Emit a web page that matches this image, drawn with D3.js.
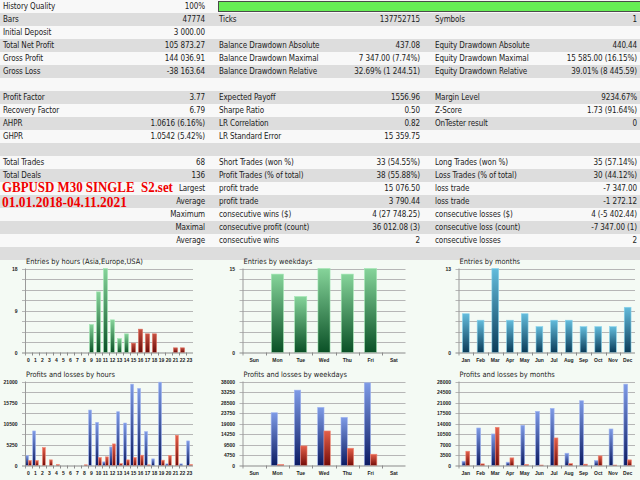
<!DOCTYPE html>
<html>
<head>
<meta charset="utf-8">
<script src="https://cdn.jsdelivr.net/npm/d3@7"></script>
<style>
    html, body { margin: 0; padding: 0; background: #ffffff; }
    svg { display: block; }
    .cell { font-family: "Liberation Sans Narrow", "DejaVu Sans Condensed", "Liberation Sans", sans-serif; font-size: 8px; letter-spacing: -0.1px; fill: #1c1c1c; }
    .stamp { font-family: "Liberation Serif", "DejaVu Serif", serif; font-weight: bold; font-size: 15px; fill: #f00000; }
    .chart-title { font-family: "Liberation Sans Narrow", "DejaVu Sans Condensed", "Liberation Sans", sans-serif; font-size: 7.4px; fill: #1c1c1c; }
    .y-axis text { font-family: "Liberation Sans", sans-serif; font-size: 5px; font-weight: bold; fill: #222; }
    .x-axis text { font-family: "Liberation Sans", sans-serif; font-size: 5px; font-weight: bold; fill: #222; }
</style>
</head>
<body>
<div id="report"></div>
<script>

// Table cells (one entry per row, 20 rows)
var leftLabels = ["History Quality", "Bars", "Initial Deposit", "Total Net Profit", "Gross Profit", "Gross Loss", "",
    "Profit Factor", "Recovery Factor", "AHPR", "GHPR", "", "Total Trades", "Total Deals", "", "", "", "", "", ""];
var leftValues = ["100%", "47774", "3 000.00", "105 873.27", "144 036.91", "-38 163.64", "",
    "3.77", "6.79", "1.0616 (6.16%)", "1.0542 (5.42%)", "", "68", "136", "Largest", "Average", "Maximum", "Maximal", "Average", ""];
var midLabels = ["", "Ticks", "", "Balance Drawdown Absolute", "Balance Drawdown Maximal", "Balance Drawdown Relative", "",
    "Expected Payoff", "Sharpe Ratio", "LR Correlation", "LR Standard Error", "", "Short Trades (won %)", "Profit Trades (% of total)",
    "profit trade", "profit trade", "consecutive wins ($)", "consecutive profit (count)", "consecutive wins", ""];
var midValues = ["", "137752715", "", "437.08", "7 347.00 (7.74%)", "32.69% (1 244.51)", "",
    "1556.96", "0.50", "0.82", "15 359.75", "", "33 (54.55%)", "38 (55.88%)",
    "15 076.50", "3 790.44", "4 (27 748.25)", "36 012.08 (3)", "2", ""];
var rightLabels = ["", "Symbols", "", "Equity Drawdown Absolute", "Equity Drawdown Maximal", "Equity Drawdown Relative", "",
    "Margin Level", "Z-Score", "OnTester result", "", "", "Long Trades (won %)", "Loss Trades (% of total)",
    "loss trade", "loss trade", "consecutive losses ($)", "consecutive loss (count)", "consecutive losses", ""];
var rightValues = ["", "1", "", "440.44", "15 585.00 (16.15%)", "39.01% (8 445.59)", "",
    "9234.67%", "1.73 (91.64%)", "0", "", "", "35 (57.14%)", "30 (44.12%)",
    "-7 347.00", "-1 272.12", "4 (-5 402.44)", "-7 347.00 (1)", "2", ""];
var stampLines = ["GBPUSD M30 SINGLE  S2.set", "01.01.2018-04.11.2021"];

// Chart categories
var hourCategories = ["0", "1", "2", "3", "4", "5", "6", "7", "8", "9", "10", "11",
    "12", "13", "14", "15", "16", "17", "18", "19", "20", "21", "22", "23"];
var hourSessions = ["asia", "asia", "asia", "asia", "asia", "asia", "asia", "asia", "asia",
    "europe", "europe", "europe", "europe", "europe", "europe",
    "usa", "usa", "usa", "usa", "usa", "usa", "usa", "usa", "usa"];
var weekdayCategories = ["Sun", "Mon", "Tue", "Wed", "Thu", "Fri", "Sat"];
var monthCategories = ["Jan", "Feb", "Mar", "Apr", "May", "Jun", "Jul", "Aug", "Sep", "Oct", "Nov", "Dec"];

// Entries
var hourEntries = [0, 0, 0, 0, 0, 0, 0, 0, 0, 6, 13, 18, 7, 3, 4, 2, 5, 4, 4, 0, 0, 1, 1, 0];
var weekdayEntries = [0, 14, 10, 15, 14, 15, 0];
var monthEntries = [6, 5, 13, 5, 6, 4, 5, 5, 4, 4, 4, 7];

// Profits and losses
var hourProfits = [2490, 8633, 0, 0, 0, 0, 0, 0, 0, 13862, 10790, 913, 4648, 13447, 10625, 20336,
    19257, 8467, 1660, 20834, 415, 0, 415, 6142];
var hourLosses = [1245, 1245, 4482, 1411, 250, 0, 0, 0, 170, 0, 1992, 2158, 5395, 498, 1411, 1992,
    2573, 166, 0, 1328, 2490, 7553, 0, 250];
var weekdayProfits = [0, 23881, 34095, 26285, 21779, 37399, 0];
var weekdayLosses = [0, 450, 8862, 15621, 7810, 5107, 0];
var monthProfits = [1439, 12506, 10514, 1107, 13391, 18040, 19036, 4095, 21581, 1660, 12174, 27115];
var monthLosses = [4759, 553, 12727, 2545, 332, 150, 9186, 664, 443, 3209, 150, 1881];

// Y tick labels (first one is the axis maximum)
var hourEntryTicks = [18, 9, 0];
var weekdayEntryTicks = [15, 0];
var monthEntryTicks = [13, 0];
var hourProfitTicks = [21000, 15750, 10500, 5250, 0];
var weekdayProfitTicks = [38000, 33250, 28500, 23750, 19000, 14250, 9500, 4750, 0];
var monthProfitTicks = [28000, 24500, 21000, 17500, 14000, 10500, 7000, 3500, 0];

var width = 640, height = 480, rowHeight = 13;

var svg = d3.select("#report")
    .append("svg")
    .attr("width", width)
    .attr("height", height);

// Gradients for the bars
var gradients = {
    green: ["#86d49a", "#0a5026", "#a3e8b5"],
    red: ["#c65040", "#690c0a", "#dc6a5c"],
    teal: ["#63bcdc", "#0a3b58", "#86d2ec"],
    blue: ["#7e9be6", "#0b1b62", "#9fb3f0"],
    loss: ["#e4604a", "#740c08", "#f08472"]
};
var defs = svg.append("defs");
Object.keys(gradients).forEach(function (key) {
    var grad = defs.append("linearGradient")
        .attr("id", "grad-" + key)
        .attr("x1", 0).attr("y1", 0).attr("x2", 0).attr("y2", 1);
    grad.append("stop").attr("offset", "0%").attr("stop-color", gradients[key][0]);
    grad.append("stop").attr("offset", "100%").attr("stop-color", gradients[key][1]);
});

// Table rows
var rows = svg.append("g").attr("class", "table")
    .selectAll(".row")
    .data(leftLabels)
    .enter()
    .append("g")
    .attr("class", "row")
    .attr("transform", function (d, i) { return "translate(0," + i * rowHeight + ")"; });

rows.append("rect")
    .attr("width", width)
    .attr("height", rowHeight)
    .attr("fill", function (d, i) { return i % 2 ? "#dddddd" : "#f8f8f8"; });

var columns = [
    { texts: leftLabels, x: 3, anchor: "start" },
    { texts: leftValues, x: 205, anchor: "end" },
    { texts: midLabels, x: 219, anchor: "start" },
    { texts: midValues, x: 420, anchor: "end" },
    { texts: rightLabels, x: 435, anchor: "start" },
    { texts: rightValues, x: 637, anchor: "end" }
];
columns.forEach(function (col) {
    rows.append("text")
        .attr("class", "cell")
        .attr("x", col.x)
        .attr("y", 9.3)
        .attr("text-anchor", col.anchor)
        .text(function (d, i) { return col.texts[i]; });
});

// History quality bar
svg.append("rect")
    .attr("x", 218.5).attr("y", 1.5)
    .attr("width", 422).attr("height", 10)
    .attr("fill", "#66ee55")
    .attr("stroke", "#4a4a4a")
    .attr("stroke-width", 1);

// Red stamp over the table, squeezed horizontally to the reference widths
var stampWidths = [171, 125];
svg.append("g").selectAll("text")
    .data(stampLines)
    .enter()
    .append("text")
    .attr("class", "stamp")
    .attr("xml:space", "preserve")
    .text(function (d) { return d; })
    .attr("transform", function (d, i) {
        var natural = this.getComputedTextLength() || stampWidths[i];
        return "translate(2," + (191.5 + i * 15) + ") scale(" + (stampWidths[i] / natural) + ",1)";
    });

// Chart area background
svg.append("rect")
    .attr("x", 0).attr("y", 260)
    .attr("width", width).attr("height", 220)
    .attr("fill", "#f4faf4");

// Draws one bar chart panel
function drawChart(cfg) {
    var g = svg.append("g").attr("class", "chart");
    var yMax = cfg.ticks[0];

    var yScale = d3.scaleLinear()
        .domain([0, yMax])
        .range([cfg.bottom, cfg.top]);

    var xScale0 = d3.scaleBand()
        .domain(cfg.categories)
        .range([cfg.left, cfg.right]);

    var groupWidth = xScale0.bandwidth() * cfg.barRatio;

    var xScale1 = d3.scaleBand()
        .domain(d3.range(cfg.series.length))
        .range([0, groupWidth]);

    // Title
    g.append("text")
        .attr("class", "chart-title")
        .attr("x", cfg.left + 1)
        .attr("y", cfg.top - 5)
        .text(cfg.title);

    // Gridlines (8 intervals)
    g.append("g")
        .selectAll("line")
        .data(d3.range(1, 9))
        .enter()
        .append("line")
        .attr("x1", cfg.left - 3)
        .attr("x2", cfg.right)
        .attr("y1", function (d) { return Math.round(yScale(yMax * d / 8)) + 0.5; })
        .attr("y2", function (d) { return Math.round(yScale(yMax * d / 8)) + 0.5; })
        .attr("stroke", "#b6b6b6")
        .attr("stroke-width", 1);

    // Y labels
    g.append("g")
        .attr("class", "y-axis")
        .attr("transform", "translate(" + (cfg.left - 4.5) + ",0)")
        .call(d3.axisLeft(yScale).tickValues(cfg.ticks).tickSize(0).tickFormat(function (d) { return String(d); }))
        .call(function (a) { a.select(".domain").remove(); });

    // Bars
    g.append("g")
        .selectAll(".bar-group")
        .data(cfg.categories)
        .enter()
        .append("g")
        .attr("class", "bar-group")
        .attr("transform", function (d) {
            return "translate(" + (xScale0(d) + (xScale0.bandwidth() - groupWidth) / 2) + ",0)";
        })
        .selectAll("rect")
        .data(function (d, i) {
            return cfg.series.map(function (s, k) {
                return { key: k, value: s.values[i], color: s.color(i) };
            }).filter(function (v) { return v.value > 0; });
        })
        .enter()
        .append("rect")
        .attr("x", function (d) { return xScale1(d.key); })
        .attr("width", xScale1.bandwidth())
        .attr("y", function (d) { return yScale(d.value); })
        .attr("height", function (d) { return cfg.bottom - yScale(d.value); })
        .attr("fill", function (d) { return "url(#grad-" + d.color + ")"; })
        .attr("stroke", function (d) { return gradients[d.color][2]; })
        .attr("stroke-width", 0.6);

    // Axis lines
    g.append("line")
        .attr("x1", cfg.left + 0.5).attr("x2", cfg.left + 0.5)
        .attr("y1", cfg.top).attr("y2", cfg.bottom + 3)
        .attr("stroke", "#9a9a9a");
    g.append("line")
        .attr("x1", cfg.left - 3).attr("x2", cfg.right)
        .attr("y1", cfg.bottom + 0.5).attr("y2", cfg.bottom + 0.5)
        .attr("stroke", "#8a8a8a");

    // Category separators
    g.append("g")
        .selectAll("line")
        .data(cfg.categories.slice(1))
        .enter()
        .append("line")
        .attr("x1", function (d) { return Math.round(xScale0(d)) + 0.5; })
        .attr("x2", function (d) { return Math.round(xScale0(d)) + 0.5; })
        .attr("y1", cfg.bottom)
        .attr("y2", cfg.bottom + 3)
        .attr("stroke", "#8a8a8a");

    // X labels
    g.append("g")
        .attr("class", "x-axis")
        .attr("transform", "translate(0," + (cfg.bottom + 3) + ")")
        .call(d3.axisBottom(xScale0).tickSize(0))
        .call(function (a) { a.select(".domain").remove(); });
}

function constant(c) { return function () { return c; }; }

var sessionColor = { asia: "blue", europe: "green", usa: "red" };

drawChart({
    title: "Entries by hours (Asia,Europe,USA)",
    left: 25, right: 193, top: 268.5, bottom: 352.5,
    categories: hourCategories, ticks: hourEntryTicks, barRatio: 0.57,
    series: [{ values: hourEntries, color: function (i) { return sessionColor[hourSessions[i]]; } }]
});
drawChart({
    title: "Entries by weekdays",
    left: 242.5, right: 405.5, top: 268.5, bottom: 352.5,
    categories: weekdayCategories, ticks: weekdayEntryTicks, barRatio: 0.52,
    series: [{ values: weekdayEntries, color: constant("green") }]
});
drawChart({
    title: "Entries by months",
    left: 458.5, right: 635, top: 268.5, bottom: 352.5,
    categories: monthCategories, ticks: monthEntryTicks, barRatio: 0.46,
    series: [{ values: monthEntries, color: constant("teal") }]
});
drawChart({
    title: "Profits and losses by hours",
    left: 25, right: 193, top: 381.5, bottom: 465.5,
    categories: hourCategories, ticks: hourProfitTicks, barRatio: 0.8,
    series: [{ values: hourProfits, color: constant("blue") }, { values: hourLosses, color: constant("loss") }]
});
drawChart({
    title: "Profits and losses by weekdays",
    left: 242.5, right: 405.5, top: 381.5, bottom: 465.5,
    categories: weekdayCategories, ticks: weekdayProfitTicks, barRatio: 0.54,
    series: [{ values: weekdayProfits, color: constant("blue") }, { values: weekdayLosses, color: constant("loss") }]
});
drawChart({
    title: "Profits and losses by months",
    left: 458.5, right: 635, top: 381.5, bottom: 465.5,
    categories: monthCategories, ticks: monthProfitTicks, barRatio: 0.52,
    series: [{ values: monthProfits, color: constant("blue") }, { values: monthLosses, color: constant("loss") }]
});

</script>
</body>
</html>
